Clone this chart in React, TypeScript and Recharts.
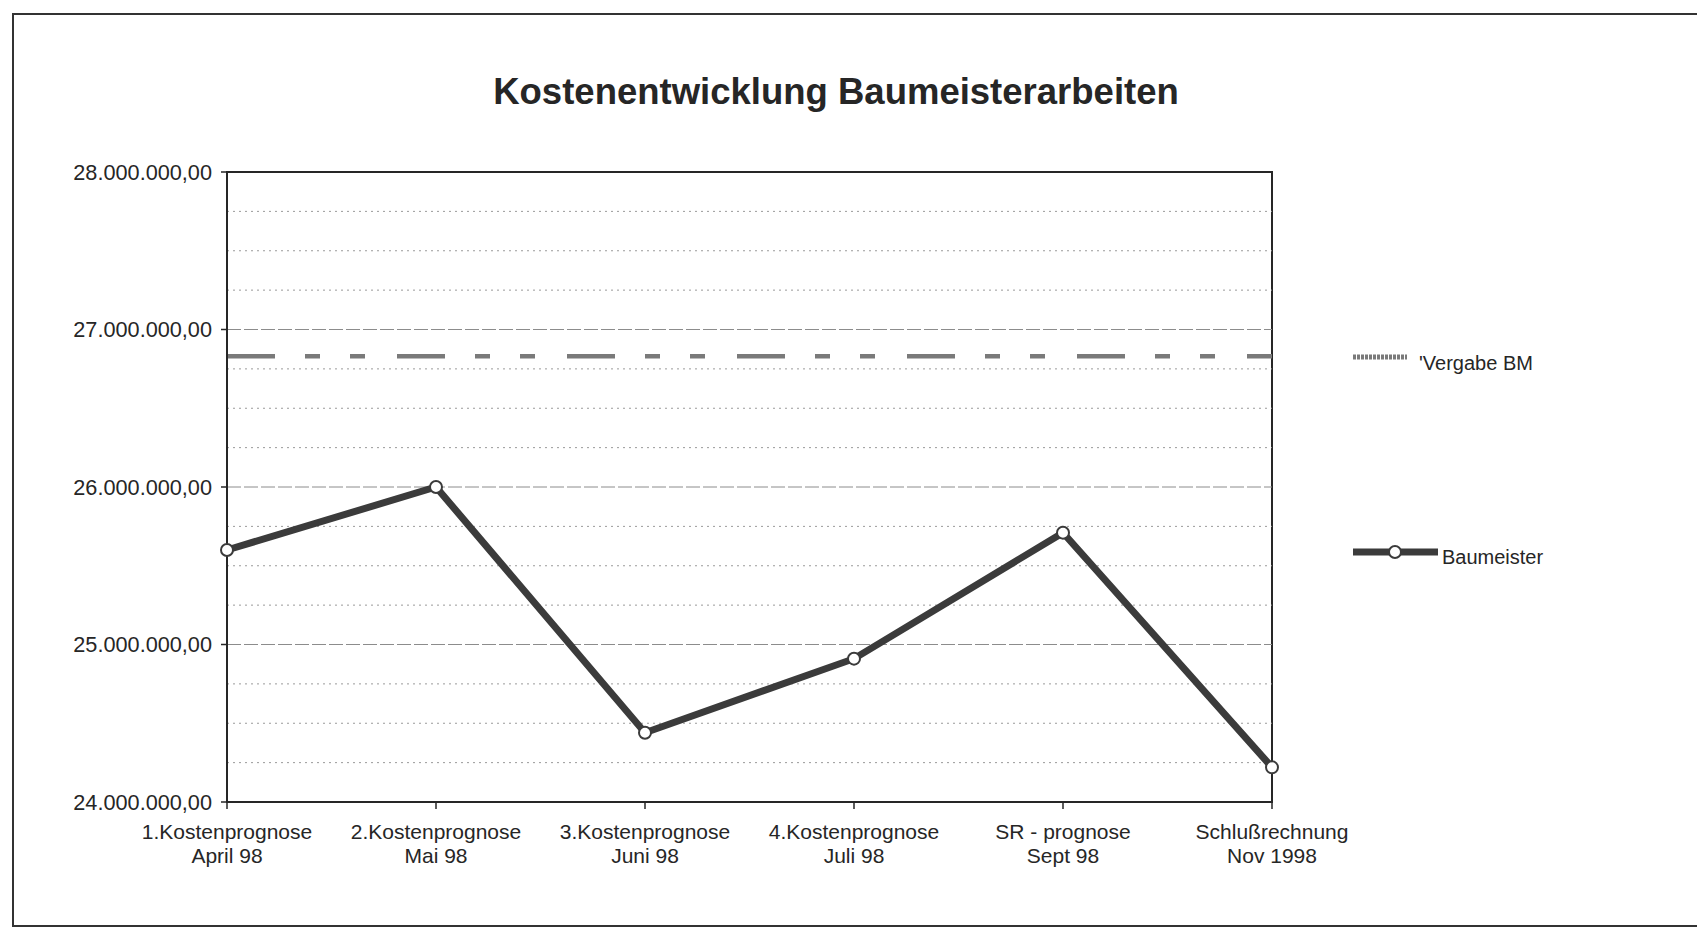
import React from "react";
import { LineChart, Line, XAxis, YAxis, ReferenceLine, ReferenceArea, Legend } from "recharts";

const categories = ["1.Kostenprognose", "2.Kostenprognose", "3.Kostenprognose", "4.Kostenprognose", "SR - prognose", "Schlußrechnung"];
const periods = ["April 98", "Mai 98", "Juni 98", "Juli 98", "Sept 98", "Nov 1998"];
const baumeister = [25600000, 26000000, 24440000, 24910000, 25710000, 24220000];
const vergabeBM = [26830000, 26830000, 26830000, 26830000, 26830000, 26830000];
const yTicks = [24000000, 25000000, 26000000, 27000000, 28000000];
const majorGrid = [25000000, 26000000, 27000000];
const minorGrid = [
  24250000, 24500000, 24750000, 25250000, 25500000, 25750000,
  26250000, 26500000, 26750000, 27250000, 27500000, 27750000,
];

const data = categories.map((c, i) => ({
  name: c,
  period: periods[i],
  baumeister: baumeister[i],
  vergabe: vergabeBM[i],
}));

const FONT = "'Liberation Sans', Arial, sans-serif";
const INK = "#262626";

function fmt(v: number): string {
  const s = Math.round(v).toString();
  const parts: string[] = [];
  for (let i = s.length; i > 0; i -= 3) parts.unshift(s.substring(Math.max(0, i - 3), i));
  return parts.join(".") + ",00";
}

const XTick = (props: any) => {
  const { x, y, payload, index } = props;
  return (
    <text x={x} y={y} textAnchor="middle" fontFamily={FONT} fontSize={21} fill={INK}>
      <tspan x={x} y={y + 28}>{payload.value}</tspan>
      <tspan x={x} y={y + 52}>{periods[index]}</tspan>
    </text>
  );
};

const LegendContent = () => (
  <svg width={340} height={240} style={{ overflow: "visible" }}>
    <line x1={5} y1={19} x2={59} y2={19} stroke="#7a7a7a" strokeWidth={5} strokeDasharray="3 1" />
    <text x={71} y={32} fontFamily={FONT} fontSize={20} fill={INK}>'Vergabe BM</text>
    <line x1={5} y1={214} x2={90} y2={214} stroke="#3b3b3b" strokeWidth={7} />
    <circle cx={47} cy={214} r={6} fill="#fff" stroke="#3b3b3b" strokeWidth={2} />
    <text x={94} y={226} fontFamily={FONT} fontSize={20} fill={INK}>Baumeister</text>
  </svg>
);

export default function App() {
  return (
    <div style={{ position: "relative", width: 1697, height: 922, background: "#fff" }}>
      <div
        style={{
          position: "absolute",
          left: 4,
          top: 5,
          width: 1686,
          height: 910,
          border: "2px solid #333",
        }}
      />
      <div
        style={{
          position: "absolute",
          left: 0,
          top: 63,
          width: 1656,
          textAlign: "center",
          fontFamily: FONT,
          fontWeight: "bold",
          fontSize: 36.5,
          color: INK,
        }}
      >
        Kostenentwicklung Baumeisterarbeiten
      </div>
      <div style={{ position: "absolute", left: 0, top: 0 }}>
        <LineChart
          width={1697}
          height={922}
          data={data}
          margin={{ top: 164, right: 433, bottom: 68, left: 0 }}
        >
          {minorGrid.map((v) => (
            <ReferenceLine key={"mi" + v} y={v} stroke="#9a9a9a" strokeWidth={1} strokeDasharray="2 4" />
          ))}
          {majorGrid.map((v) => (
            <ReferenceLine key={"ma" + v} y={v} stroke="#8c8c8c" strokeWidth={1} strokeDasharray="14 3" />
          ))}
          <ReferenceArea
            x1={categories[0]}
            x2={categories[categories.length - 1]}
            y1={24000000}
            y2={28000000}
            fill="none"
            fillOpacity={0}
            stroke={INK}
            strokeWidth={2}
          />
          <XAxis
            dataKey="name"
            height={60}
            interval={0}
            tick={<XTick />}
            tickSize={7}
            tickMargin={2}
            axisLine={{ stroke: INK, strokeWidth: 2 }}
            tickLine={{ stroke: INK, strokeWidth: 1.5 }}
          />
          <YAxis
            width={219}
            domain={[24000000, 28000000]}
            ticks={yTicks}
            tickFormatter={fmt}
            tickSize={6}
            tickMargin={9}
            axisLine={{ stroke: INK, strokeWidth: 2 }}
            tickLine={{ stroke: INK, strokeWidth: 1.5 }}
            tick={{ fontFamily: FONT, fontSize: 21.7, fill: INK }}
            allowDataOverflow
          />
          <Line
            dataKey="vergabe"
            name="'Vergabe BM"
            stroke="#7a7a7a"
            strokeWidth={4.5}
            strokeDasharray="48 30 15 30 15 32"
            dot={false}
            activeDot={false}
            isAnimationActive={false}
          />
          <Line
            dataKey="baumeister"
            name="Baumeister"
            stroke="#3b3b3b"
            strokeWidth={7}
            dot={{ r: 6, fill: "#fff", stroke: "#3b3b3b", strokeWidth: 2 }}
            activeDot={false}
            isAnimationActive={false}
          />
          <Legend
            layout="vertical"
            align="center"
            verticalAlign="middle"
            content={<LegendContent />}
            wrapperStyle={{ left: 1340, top: 330, width: 340, height: 240 }}
          />
        </LineChart>
      </div>
    </div>
  );
}
